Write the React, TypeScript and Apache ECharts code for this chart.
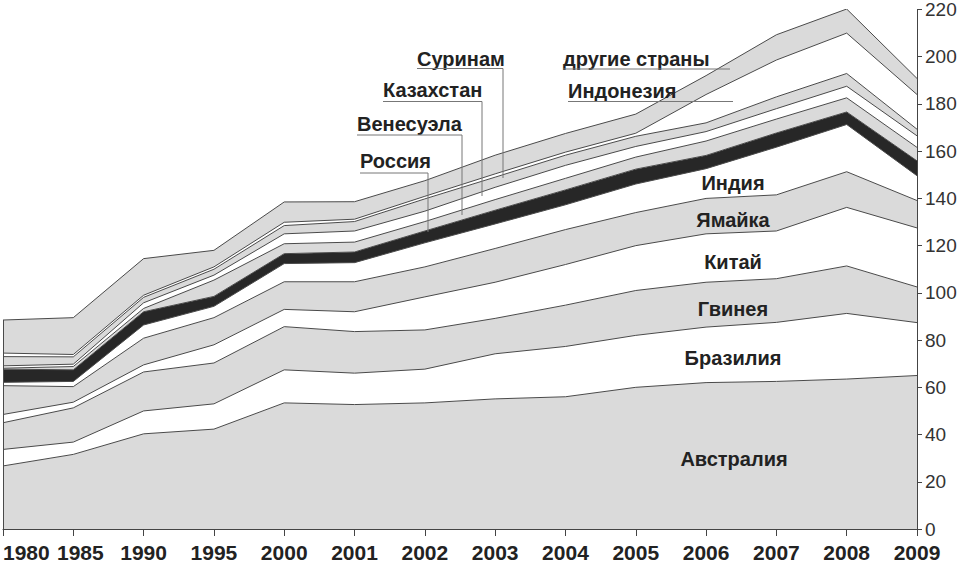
import React, { useEffect, useRef } from "react";
import * as echarts from "echarts";

// ---- data (million tonnes, stacked from bottom to top) ----
const years = ["1980", "1985", "1990", "1995", "2000", "2001", "2002", "2003", "2004", "2005", "2006", "2007", "2008", "2009"];

const australia = [26.7, 31.6, 40.3, 42.3, 53.4, 52.7, 53.4, 55.1, 56.0, 60.0, 62.0, 62.5, 63.5, 65.0];
const brazil = [7.0, 5.2, 9.7, 10.7, 14.0, 13.3, 14.3, 19.1, 21.3, 22.0, 23.5, 25.0, 27.8, 22.4];
const guinea = [11.3, 14.5, 16.5, 17.3, 18.3, 17.6, 16.6, 15.0, 17.5, 19.0, 19.0, 18.5, 20.1, 15.1];
const china = [3.5, 2.4, 3.0, 7.7, 7.3, 8.4, 14.0, 15.3, 17.2, 19.0, 20.5, 20.2, 24.8, 25.0];
const jamaica = [12.2, 6.6, 11.3, 11.5, 11.7, 12.7, 12.7, 14.3, 14.8, 14.0, 15.0, 15.3, 15.1, 11.6];
const india = [1.4, 2.2, 5.6, 4.8, 7.7, 8.1, 10.2, 10.4, 10.5, 12.1, 12.6, 20.2, 20.0, 10.5];
const russia = [5.6, 4.9, 5.6, 4.2, 4.2, 4.5, 5.0, 5.8, 6.3, 6.3, 5.6, 6.0, 5.3, 6.3];
const venezuela = [0.4, 1.4, 1.4, 6.9, 4.2, 4.2, 4.0, 4.5, 4.9, 5.1, 6.1, 5.9, 6.0, 5.7];
const kazakhstan = [1.0, 1.0, 2.4, 2.1, 4.2, 4.7, 4.4, 5.2, 5.5, 4.5, 4.0, 4.4, 4.9, 4.9];
const suriname = [3.9, 3.1, 2.3, 2.5, 3.5, 4.0, 5.2, 4.3, 4.3, 4.3, 3.7, 5.0, 5.4, 2.8];
const indonesia = [1.5, 1.0, 0.9, 1.0, 1.4, 1.0, 1.1, 1.4, 1.3, 1.3, 12.0, 15.6, 17.1, 14.7];
const others = [14.0, 15.6, 15.5, 7.0, 8.6, 7.4, 6.6, 7.9, 7.9, 8.1, 8.0, 10.7, 10.2, 6.8];

const seriesNames = ["Австралия", "Бразилия", "Гвинея", "Китай", "Ямайка", "Индия", "Россия", "Венесуэла", "Казахстан", "Суринам", "Индонезия", "другие страны"];
const seriesData = [australia, brazil, guinea, china, jamaica, india, russia, venezuela, kazakhstan, suriname, indonesia, others];

const yTicks = { min: 0, max: 220, interval: 20 };

const GRAY = "#dadada";
const WHITE = "#ffffff";
const BLACK = "#272727";
const fills = [GRAY, WHITE, GRAY, WHITE, GRAY, WHITE, BLACK, GRAY, WHITE, GRAY, WHITE, GRAY];

const LABEL_FONT = 'bold 20px "Liberation Sans", Arial, sans-serif';
const AXIS_FONT = '"Liberation Sans Narrow", "Liberation Sans", Arial, sans-serif';

export default function App() {
  const ref = useRef<HTMLDivElement>(null);

  useEffect(() => {
    if (!ref.current) return;
    const chart = echarts.init(ref.current, null, { renderer: "svg" });

    const total0 = seriesData.reduce((s, arr) => s + arr[0], 0);

    const series: any[] = seriesData.map((data, i) => ({
      name: seriesNames[i],
      type: "line",
      stack: "total",
      symbol: "none",
      data,
      lineStyle: { color: "#4a4a4a", width: 1 },
      areaStyle: { color: fills[i], opacity: 1 },
      z: 2,
    }));
    series[series.length - 1].markLine = {
      silent: true,
      symbol: "none",
      label: { show: false },
      lineStyle: { color: "#4a4a4a", width: 1, type: "solid" },
      data: [[{ coord: [0, 0] }, { coord: [0, total0] }]],
    };

    const inBand = [
      { t: "Австралия", x: 734, y: 459 },
      { t: "Бразилия", x: 733, y: 358 },
      { t: "Гвинея", x: 733, y: 309 },
      { t: "Китай", x: 733, y: 262 },
      { t: "Ямайка", x: 733, y: 220 },
      { t: "Индия", x: 733, y: 183 },
    ];

    const leaders = [
      { t: "Суринам", x0: 417, x1: 503, y: 59, uy: 68.5, vy: 178 },
      { t: "Казахстан", x0: 383, x1: 482, y: 90, uy: 101.5, vy: 196 },
      { t: "Венесуэла", x0: 357, x1: 462, y: 124, uy: 135, vy: 215 },
      { t: "Россия", x0: 360, x1: 428, y: 161, uy: 173, vy: 232 },
      { t: "другие страны", x0: 563, x1: 730, y: 59, uy: 69, vy: null },
      { t: "Индонезия", x0: 568, x1: 733, y: 91, uy: 101.5, vy: null },
    ];

    const graphics: any[] = [];
    inBand.forEach((l) => {
      graphics.push({
        type: "text",
        x: l.x,
        y: l.y,
        z: 10,
        style: { text: l.t, font: LABEL_FONT, fill: "#222", textAlign: "center", textVerticalAlign: "middle" },
      });
    });
    leaders.forEach((l) => {
      graphics.push({
        type: "text",
        x: l.x0,
        y: l.y,
        z: 10,
        style: { text: l.t, font: LABEL_FONT, fill: "#222", textAlign: "left", textVerticalAlign: "middle" },
      });
      const pts: number[][] = [[l.x0, l.uy], [l.x1, l.uy]];
      if (l.vy !== null) pts.push([l.x1, l.vy as number]);
      graphics.push({
        type: "polyline",
        z: 10,
        shape: { points: pts },
        style: { stroke: "#777", lineWidth: 1, fill: "none" },
      });
    });

    chart.setOption({
      animation: false,
      backgroundColor: "#ffffff",
      grid: { left: 2, right: 43, top: 8, bottom: 33, containLabel: false },
      xAxis: {
        type: "category",
        data: years.map((y) => (y === "1985" ? { value: y, textStyle: { padding: [0, 0, 0, 14] } } : y)),
        boundaryGap: false,
        axisLine: { show: true, lineStyle: { color: "#444", width: 1 } },
        axisTick: { show: true, interval: 0, length: 7, lineStyle: { color: "#444" } },
        axisLabel: {
          interval: 0,
          margin: 13,
          color: "#222",
          fontWeight: "bold",
          fontSize: 21,
          fontFamily: AXIS_FONT,
          alignMinLabel: "left",
          alignMaxLabel: "center",
        },
        splitLine: { show: false },
      },
      yAxis: {
        type: "value",
        position: "right",
        min: yTicks.min,
        max: yTicks.max,
        interval: yTicks.interval,
        axisLine: { show: true, lineStyle: { color: "#444", width: 1 } },
        axisTick: { show: true, length: 5, lineStyle: { color: "#444" } },
        axisLabel: { margin: 8, color: "#333", fontSize: 19, fontFamily: AXIS_FONT },
        splitLine: { show: false },
      },
      series,
      graphic: graphics,
    });

    return () => chart.dispose();
  }, []);

  return (
    <div
      ref={ref}
      style={{ position: "absolute", left: 0, top: 0, width: 960, height: 563, background: "#fff" }}
    />
  );
}
